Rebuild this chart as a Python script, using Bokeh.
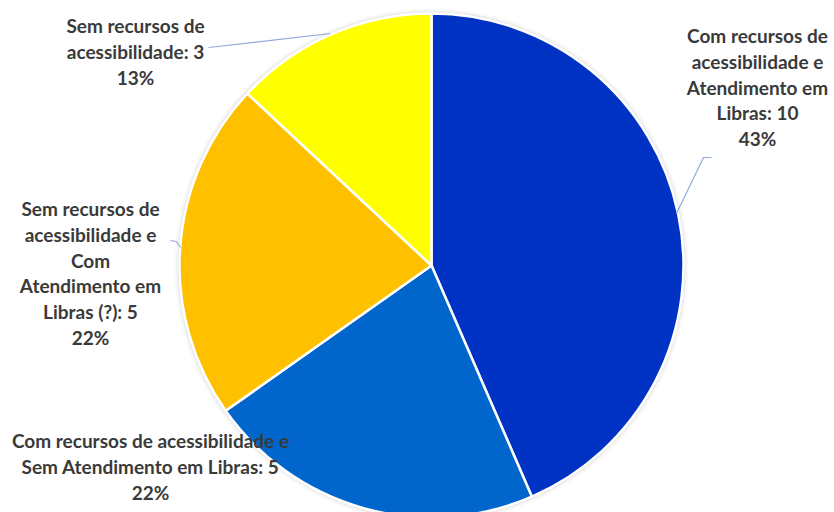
import math
from bokeh.plotting import figure
from bokeh.models import Range1d, ColumnDataSource
from bokeh.core.properties import value
from bokeh.embed import file_html
from bokeh.resources import INLINE

# ---- data ----
categories = [
    "Com recursos de acessibilidade e Atendimento em Libras",
    "Com recursos de acessibilidade e Sem Atendimento em Libras",
    "Sem recursos de acessibilidade e Com Atendimento em Libras (?)",
    "Sem recursos de acessibilidade",
]
counts = [10, 5, 5, 3]
colors = ["#0033C4", "#0066CC", "#FFC000", "#FFFF00"]
label_lines = [
    ["Com recursos de", "acessibilidade e", "Atendimento em", "Libras: {v}", "{p}%"],
    ["Com recursos de acessibilidade e", "Sem Atendimento em Libras: {v}", "{p}%"],
    ["Sem recursos de", "acessibilidade e", "Com", "Atendimento em", "Libras (?): {v}", "{p}%"],
    ["Sem recursos de", "acessibilidade: {v}", "{p}%"],
]

W, H = 834, 512
CX, CY, R = 431, 265, 252  # pixel coords (y downward)

def fy(y):
    return H - y

total = sum(counts)
starts, ends = [], []
cum = 0.0
for c in counts:
    a0 = math.pi / 2 - 2 * math.pi * cum / total
    cum += c
    a1 = math.pi / 2 - 2 * math.pi * cum / total
    starts.append(a1)
    ends.append(a0)

p = figure(width=W, height=H, output_backend="svg", toolbar_location=None,
           x_range=Range1d(0, W), y_range=Range1d(0, H),
           min_border=0, outline_line_color=None)
p.axis.visible = False
p.grid.visible = False
p.background_fill_color = "white"

# soft shadow
for dr, a in [(5, 0.05), (3, 0.08), (1.5, 0.1)]:
    p.circle(x=[CX], y=[fy(CY)], radius=R + dr, fill_color="#808080",
             fill_alpha=a, line_color=None)

src = ColumnDataSource(dict(start=starts, end=ends, color=colors))
p.wedge(x=CX, y=fy(CY), radius=R, start_angle="start", end_angle="end",
        direction="anticlock", fill_color="color", line_color="white",
        line_width=2.5, source=src)

# leader lines
lc = "#8FAADC"
p.line(x=[208, 330], y=[fy(47), fy(33)], line_color=lc, line_width=1.2)
p.line(x=[676, 703, 711], y=[fy(213), fy(157), fy(157)], line_color=lc, line_width=1.2)
p.line(x=[170, 176, 180], y=[fy(240), fy(241), fy(247)], line_color=lc, line_width=1.2)

# labels
pcts = [round(100 * c / total) for c in counts]
label_pos = [(757, 35), (150, 440), (90, 208), (135, 25)]
xs, ys, texts = [], [], []
for lines, v, pc, (lx, ly) in zip(label_lines, counts, pcts, label_pos):
    for i, ln in enumerate(lines):
        xs.append(lx)
        ys.append(fy(ly + i * 25.8))
        texts.append(ln.format(v=v, p=pc))
p.text(x=xs, y=ys, text=texts, text_font=value("Lato"), text_font_style="bold",
       text_font_size="19px", text_color="#3A3A3A", text_align="center",
       text_baseline="middle")

open("out.html", "w").write(file_html(p, INLINE))
